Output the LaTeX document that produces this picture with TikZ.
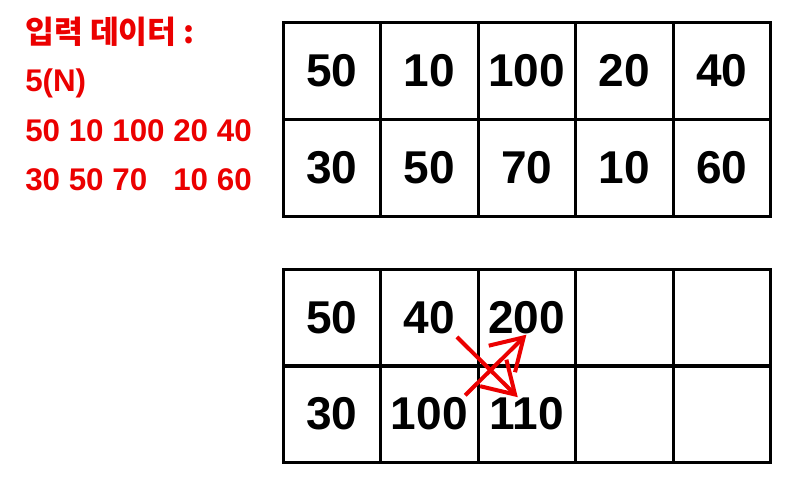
\documentclass[tikz,border=0pt]{standalone}
\usepackage{fontspec}
\setmainfont{Liberation Sans}
\newfontfamily\krfont{Noto Sans CJK KR}
\usetikzlibrary{arrows.meta}
\definecolor{inred}{RGB}{235,0,0}
\begin{document}
\begin{tikzpicture}[x=0.75pt,y=-0.75pt,
        cell/.style={draw,line width=2.25pt,minimum width=73.125pt,minimum height=72.75pt,inner sep=0pt,outer sep=0pt,font=\fontsize{34.5}{40}\selectfont\bfseries},
        input/.style={anchor=base west,inner sep=0pt,text=inred,font=\fontsize{23.5}{27}\selectfont\bfseries},
        movearrow/.style={draw=inred,line width=3pt,-{Straight Barb[length=23pt,width=28pt]}}]
        \useasboundingbox (0,0) rectangle (800,500);
        \node [input] (in1) at (25,43) {\krfont 입력 데이터 :};
        \node [input] (in2) at (25,91) {5(N)};
        \node [input] (in3) at (25,141) {50 10 100 20 40};
        \node [input] (in4) at (25,190) {30 50 70\ \ \ 10 60};
        \node [cell] (t11) at (331.75,71) {50};
        \node [cell] (t12) at (429.25,71) {10};
        \node [cell] (t13) at (526.75,71) {100};
        \node [cell] (t14) at (624.25,71) {20};
        \node [cell] (t15) at (721.75,71) {40};
        \node [cell] (t21) at (331.75,168) {30};
        \node [cell] (t22) at (429.25,168) {50};
        \node [cell] (t23) at (526.75,168) {70};
        \node [cell] (t24) at (624.25,168) {10};
        \node [cell] (t25) at (721.75,168) {60};
        \node [cell] (b11) at (331.75,317.5) {50};
        \node [cell] (b12) at (429.25,317.5) {40};
        \node [cell] (b13) at (526.75,317.5) {200};
        \node [cell] (b14) at (624.25,317.5) {};
        \node [cell] (b15) at (721.75,317.5) {};
        \node [cell] (b21) at (331.75,414) {30};
        \node [cell] (b22) at (429.25,414) {100};
        \node [cell] (b23) at (526.75,414) {110};
        \node [cell] (b24) at (624.25,414) {};
        \node [cell] (b25) at (721.75,414) {};
        \draw [movearrow,shorten <=20.8pt,shorten >=17.9pt] ([xshift=6pt]b12.center) -- ([xshift=6pt]b23.center);
        \draw [movearrow,shorten <=20pt,shorten >=18.3pt] ([xshift=12.75pt]b22.center) -- ([xshift=12.75pt]b13.center);
    \end{tikzpicture}
\end{document}
